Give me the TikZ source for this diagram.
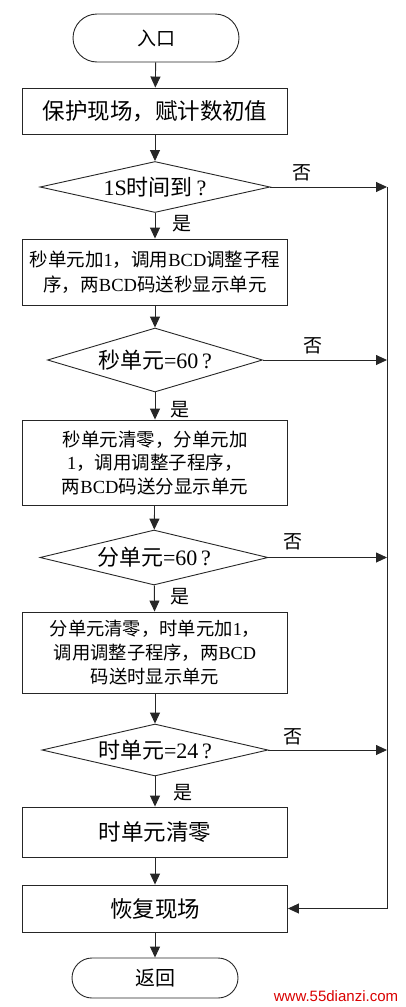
\documentclass[tikz,border=0pt]{standalone}
\usepackage{fontspec}
\setmainfont{Liberation Serif}
\newfontfamily\cj{Noto Sans CJK SC}
\newfontfamily\wmfont{Liberation Sans}
\usetikzlibrary{arrows.meta,shapes.geometric}
\newcommand\zh[1]{{\cj #1}}
\begin{document}
\begin{tikzpicture}[x=1pt,y=-1pt,
  line width=0.9pt,
  every node/.style={draw=none},
  proc/.style={draw=black!85, line width=0.9pt, rectangle, minimum width=265pt, inner sep=0pt, align=center},
  term/.style={draw=black!85, line width=0.9pt, rectangle, minimum width=166pt, inner sep=0pt},
  dec/.style={draw=black!85, line width=0.9pt, diamond, aspect=5, inner sep=0pt},
  lbl/.style={font=\fontsize{19}{19}\selectfont\cj, inner sep=0pt},
  arr/.style={draw=black!85, line width=0.9pt, -{Triangle[length=11pt,width=10pt]}},
  ln/.style={draw=black!85, line width=0.9pt}
]
\useasboundingbox (0,0) rectangle (405,1007);

\node[term, rounded corners=24pt, minimum height=48pt, font=\fontsize{19}{19}\selectfont] (t1) at (156,38) {\zh{入口}};
\node[proc, minimum height=46pt, font=\fontsize{22.5}{22.5}\selectfont] (b1) at (155,111) {\zh{保护现场，赋计数初值}};
\node[dec, minimum width=230pt, minimum height=51pt, font=\fontsize{22}{22}\selectfont] (d1) at (155,187) {1S\zh{时间到}\,?};
\node[proc, minimum height=66pt, font=\fontsize{18.5}{25}\selectfont] (b2) at (155,272)
  {\zh{秒单元加}1\zh{，调用}BCD\zh{调整子程}\\\zh{序，两}BCD\zh{码送秒显示单元}};
\node[dec, minimum width=215pt, minimum height=64pt, font=\fontsize{22}{22}\selectfont] (d2) at (155,360) {\zh{秒单元}=60\,?};
\node[proc, minimum height=85pt, font=\fontsize{18.5}{23.5}\selectfont] (b3) at (155,462.5)
  {\zh{秒单元清零，分单元加}\\1\zh{，调用调整子程序，}\\\zh{两}BCD\zh{码送分显示单元}};
\node[dec, minimum width=228pt, minimum height=55pt, font=\fontsize{22}{22}\selectfont] (d3) at (154,557.5) {\zh{分单元}=60\,?};
\node[proc, minimum height=81pt, font=\fontsize{18.3}{24}\selectfont] (b4) at (155,652.5)
  {\zh{分单元清零，时单元加}1\zh{，}\\\zh{调用调整子程序，两}BCD\\\zh{码送时显示单元}};
\node[dec, minimum width=226pt, minimum height=52pt, font=\fontsize{22}{22}\selectfont] (d4) at (155,750) {\zh{时单元}=24\,?};
\node[proc, minimum height=50pt, font=\fontsize{22.5}{22.5}\selectfont] (b5) at (155,832) {\zh{时单元清零}};
\node[proc, minimum height=47pt, font=\fontsize{22.5}{22.5}\selectfont] (b6) at (155,908.5) {\zh{恢复现场}};
\node[term, rounded corners=20pt, minimum height=40pt, font=\fontsize{20}{20}\selectfont] (t2) at (155,978) {\zh{返回}};

\node[lbl] (y1) at (182,224) {是};
\node[lbl] (y2) at (180,410) {是};
\node[lbl] (y3) at (180,597) {是};
\node[lbl] (y4) at (183,793) {是};
\node[lbl] (n1l) at (302,173) {否};
\node[lbl] (n2l) at (313,346) {否};
\node[lbl] (n3l) at (293,542) {否};
\node[lbl] (n4l) at (293,737) {否};

\node[font=\fontsize{15}{15}\selectfont\wmfont, text=red!85!black, inner sep=0pt] (wm) at (336,996) {www.55dianzi.com};

\coordinate (rx) at (387,0);
\coordinate (r1) at (d1.east -| rx);
\coordinate (r2) at (d2.east -| rx);
\coordinate (r3) at (d3.east -| rx);
\coordinate (r4) at (d4.east -| rx);
\coordinate (r5) at (b6.east -| rx);

\draw[arr] (t1) -- (b1);
\draw[arr] (b1) -- (d1);
\draw[arr] (d1) -- (b2);
\draw[arr] (b2) -- (d2);
\draw[arr] (d2) -- (b3);
\draw[arr] (b3) -- (d3);
\draw[arr] (d3) -- (b4);
\draw[arr] (b4) -- (d4);
\draw[arr] (d4) -- (b5);
\draw[arr] (b5) -- (b6);
\draw[arr] (b6) -- (t2);

\draw[arr] (d1.east) -- (r1);
\draw[arr] (d2.east) -- (r2);
\draw[arr] (d3.east) -- (r3);
\draw[arr] (d4.east) -- (r4);
\draw[ln] (r1) -- (r5);
\draw[arr] (r5) -- (b6.east);
\end{tikzpicture}
\end{document}
